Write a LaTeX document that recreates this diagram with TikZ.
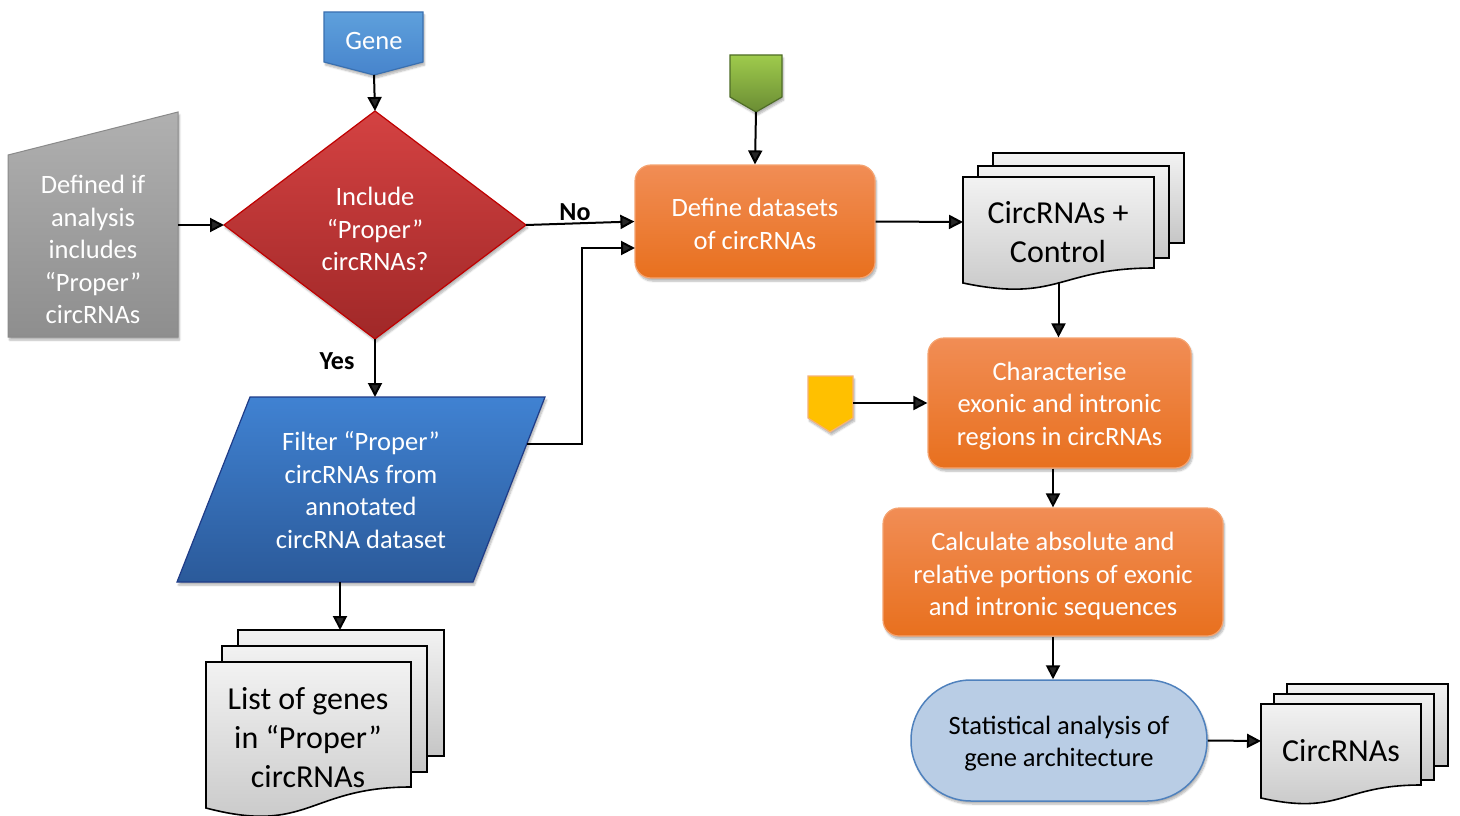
\documentclass[tikz,border=0pt]{standalone}
\usepackage{fontspec}
\setmainfont{Carlito}
\usetikzlibrary{arrows.meta,shadows.blur,calc}

\definecolor{grayTop}{HTML}{B0B0B0}
\definecolor{grayBot}{HTML}{8E8E8E}
\definecolor{grayLine}{HTML}{8A8A8A}
\definecolor{redTop}{HTML}{D44242}
\definecolor{redBot}{HTML}{A02828}
\definecolor{redLine}{HTML}{C00000}
\definecolor{bluTop}{HTML}{4082D2}
\definecolor{bluBot}{HTML}{2B5A9A}
\definecolor{bluLine}{HTML}{1F3C88}
\definecolor{genTop}{HTML}{5EA0DC}
\definecolor{genBot}{HTML}{4784CC}
\definecolor{genLine}{HTML}{3A70B0}
\definecolor{orgTop}{HTML}{F18D55}
\definecolor{orgBot}{HTML}{E8701E}
\definecolor{orgLine}{HTML}{F5A370}
\definecolor{grnTop}{HTML}{9FCB4C}
\definecolor{grnBot}{HTML}{6A8C34}
\definecolor{grnLine}{HTML}{4F6D27}
\definecolor{yelFill}{HTML}{FFC000}
\definecolor{yelLine}{HTML}{F5B27A}
\definecolor{statFill}{HTML}{B9CDE5}
\definecolor{statLine}{HTML}{4F81BD}
\definecolor{docTop}{HTML}{F2F2F2}
\definecolor{docBot}{HTML}{C6C6C6}

\tikzset{
  txt/.style={font=\fontsize{26.5}{32.5}\selectfont, align=center, inner sep=0pt},
  bigtxt/.style={font=\fontsize{32}{39}\selectfont, align=center, inner sep=0pt},
  lbl/.style={font=\fontsize{26}{30}\selectfont\bfseries, inner sep=0pt},
  arr/.style={line width=2pt, -{Triangle[length=14pt,width=14pt]}},
  shd/.style={blur shadow={shadow xshift=1.5pt, shadow yshift=-3pt, shadow blur steps=6, shadow opacity=30}},
  procbox/.style={rounded corners=16pt, line width=1.2pt, draw=orgLine,
    top color=orgTop, bottom color=orgBot, shd},
  sheet/.style={line width=1.6pt, draw=black, top color=docTop, bottom color=docBot},
}

\begin{document}
\begin{tikzpicture}[x=1pt,y=-1pt]
\useasboundingbox (0,0) rectangle (1460,816);

% ---------- input pentagons ----------
\path[draw=genLine, line width=1.2pt, top color=genTop, bottom color=genBot, shd]
  (324,12) -- (423,12) -- (423,62) -- (374,75) coordinate (geneTip) -- (324,62) -- cycle;
\node[txt, text=white] (gene) at (374,41) {Gene};

\path[draw=grnLine, line width=1.2pt, top color=grnTop, bottom color=grnBot, shd]
  (730,55) -- (782,55) -- (782,97) -- (756,112) coordinate (greenTip) -- (730,97) -- cycle;

\path[draw=yelLine, line width=1.2pt, fill=yelFill, shd]
  (808,376) -- (853,376) -- (853,418) -- (830,432) -- (808,418) -- cycle;
\coordinate (yelOut) at (853,403);

% ---------- manual input ----------
\path[draw=grayLine, line width=1pt, top color=grayTop, bottom color=grayBot, shd]
  (8,155) -- (178,112) -- (178,337) -- (8,337) -- cycle;
\node[txt, text=white] (manual) at (93,249.5) {Defined if\\analysis\\includes\\“Proper”\\circRNAs};
\coordinate (manOut) at (178,225);

% ---------- decision ----------
\path[draw=redLine, line width=1.2pt, top color=redTop, bottom color=redBot, shd]
  (224,225) coordinate (dLeft) -- (375,111) coordinate (dTop)
  -- (526,225) coordinate (dRight) -- (375,339) coordinate (dBot) -- cycle;
\node[txt, text=white] (decide) at (375,229) {Include\\“Proper”\\circRNAs?};

% ---------- filter parallelogram ----------
\path[draw=bluLine, line width=1.2pt, top color=bluTop, bottom color=bluBot, shd]
  (250,397) -- (545,397) -- (473,582) -- (177,582) -- cycle;
\node[txt, text=white] (filter) at (361,490) {Filter “Proper”\\circRNAs from\\annotated\\circRNA dataset};
\coordinate (fTop) at (375,397);
\coordinate (fRight) at (527,444);
\coordinate (fBot) at (340,582);
\coordinate (fBend) at (582,444);

% ---------- process boxes ----------
\node[procbox, minimum width=240pt, minimum height=113pt] (define) at (755,221.5) {};
\node[txt, text=white] (defineTxt) at (755,224) {Define datasets\\of circRNAs};
\coordinate (defIn2) at (635,248);

\node[procbox, minimum width=263pt, minimum height=130pt] (charac) at (1059.5,403) {};
\node[txt, text=white] (characTxt) at (1059.5,406) {Characterise\\exonic and intronic\\regions in circRNAs};

\node[procbox, minimum width=340pt, minimum height=128pt] (calc) at (1053,572) {};
\node[txt, text=white] (calcTxt) at (1053,576) {Calculate absolute and\\relative portions of exonic\\and intronic sequences};

\node[rounded corners=60pt, draw=statLine, line width=1.5pt, fill=statFill,
  minimum width=296pt, minimum height=121pt, shd] (stat) at (1059,740.5) {};
\node[txt, text=black] (statTxt) at (1059,743.5) {Statistical analysis of\\gene architecture};

% ---------- document stacks ----------
% CircRNAs + Control
\path[sheet] (993,153) rectangle (1184,243);
\path[sheet] (978,166) rectangle (1169,258);
\path[sheet] (963,177) -- (1154,177) -- (1154,268)
  .. controls (1058.5,268) and (1058.5,303) .. coordinate[pos=0.5] (ccOut) (963,283) -- cycle;
\node[bigtxt] (ctrl) at (1058,232) {CircRNAs +\\Control};
\coordinate (ccIn) at (963,222);

% List of genes
\path[sheet] (238,630) rectangle (444,756);
\path[sheet] (222,646) rectangle (427,772);
\path[sheet] (206,662) -- (411,662) -- (411,787)
  .. controls (308.5,787) and (308.5,835) .. (206,808) -- cycle;
\node[bigtxt] (genes) at (308,738) {List of genes\\in “Proper”\\circRNAs};
\coordinate (gIn) at (340,630);

% CircRNAs
\path[sheet] (1287,684) rectangle (1448,766);
\path[sheet] (1274,694) rectangle (1434,780);
\path[sheet] (1261,704) -- (1421,704) -- (1421,785)
  .. controls (1341,785) and (1341,816) .. (1261,798) -- cycle;
\node[bigtxt] (circ) at (1341,751) {CircRNAs};
\coordinate (circIn) at (1261,741);

% ---------- connectors ----------
\draw[arr] (geneTip) -- (dTop);
\draw[arr] (manOut) -- (dLeft);
\draw[arr] (dRight) -- (define.west);
\draw[arr] (dBot) -- (fTop);
\draw[arr] (fRight) -- (fBend) |- (defIn2);
\draw[arr] (fBot) -- (gIn);
\draw[arr] (greenTip) -- (define.north);
\draw[arr] (define.east) -- (ccIn);
\draw[arr] (ccOut) -- (ccOut |- charac.north);
\draw[arr] (yelOut) -- (charac.west);
\draw[arr] (calc.north |- charac.south) -- (calc.north);
\draw[arr] (calc.south) -- (calc.south |- stat.north);
\draw[arr] (stat.east) -- (circIn);

% ---------- branch labels ----------
\node[lbl] (noLbl) at (575,212) {No};
\node[lbl] (yesLbl) at (337,361) {Yes};
\end{tikzpicture}
\end{document}
